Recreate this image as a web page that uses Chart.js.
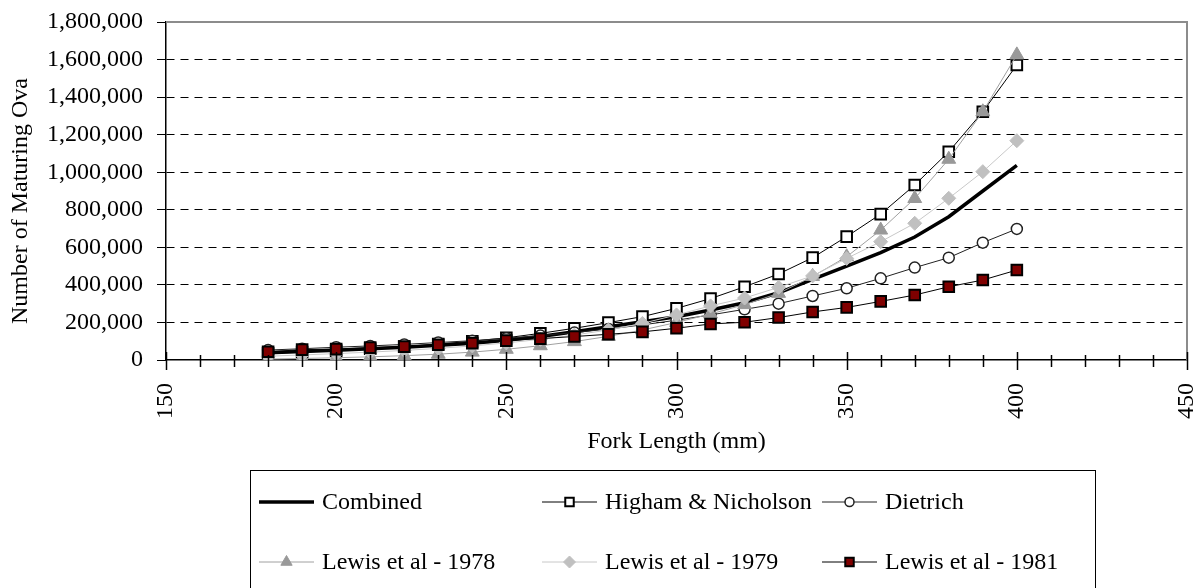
<!DOCTYPE html>
<html>
<head>
<meta charset="utf-8">
<title>Number of Maturing Ova by Fork Length</title>
<script src="https://cdn.jsdelivr.net/npm/chart.js@4.4.1/dist/chart.umd.min.js"></script>
<style>
  html, body { margin: 0; padding: 0; background: #fff; }
  #wrap { width: 1199px; height: 588px; }
</style>
</head>
<body>
<div id="wrap"><canvas id="chart" width="1199" height="588"></canvas></div>
<script>
// Fork length (mm) of each estimate
const forkLength = [180, 190, 200, 210, 220, 230, 240, 250, 260, 270, 280, 290,
                    300, 310, 320, 330, 340, 350, 360, 370, 380, 390, 400];

// Number of maturing ova
const combined = [38000, 45000, 52000, 60000, 68000, 78000, 89000, 105000, 125000, 150000, 177000, 204000,
                  230000, 266000, 305000, 358000, 430000, 500000, 572000, 655000, 763000, 900000, 1036000];
const highamNicholson = [35000, 42000, 50000, 60000, 72000, 85000, 100000, 118000, 142000, 169000, 199000, 231000,
                         275000, 327000, 390000, 458000, 545000, 657000, 777000, 932000, 1109000, 1322000, 1571000];
const dietrich = [53000, 60000, 68000, 75000, 83000, 93000, 103000, 116000, 130000, 146000, 165000, 187000,
                  212000, 240000, 270000, 300000, 341000, 382000, 435000, 492000, 545000, 625000, 698000];
const lewis1978 = [5000, 8000, 12000, 17000, 23000, 31000, 42000, 57000, 76000, 98000, 126000, 160000,
                   200000, 245000, 295000, 355000, 445000, 550000, 692000, 860000, 1069000, 1322000, 1625000];
const lewis1979 = [20000, 27000, 34000, 42000, 51000, 62000, 75000, 91000, 110000, 133000, 160000, 195000,
                   240000, 288000, 330000, 387000, 448000, 541000, 630000, 728000, 861000, 1003000, 1168000];
const lewis1981 = [44000, 55000, 58000, 66000, 71000, 81000, 90000, 103000, 114000, 125000, 137000, 150000,
                   169000, 192000, 201000, 226000, 256000, 280000, 312000, 346000, 390000, 426000, 479000];

// Axis ticks and titles
const xTickValues = [150, 200, 250, 300, 350, 400, 450];
const xMinorStep = 10;
const yTickValues = [0, 200000, 400000, 600000, 800000, 1000000, 1200000, 1400000, 1600000, 1800000];
const yTitle = 'Number of Maturing Ova';

const FONT = 'Liberation Serif';

function pairs(values) {
  return values.map(function(v, i) { return { x: forkLength[i], y: v }; });
}

// Frame, crossing x ticks, y title and the boxed legend (Excel style)
const excelLook = {
  id: 'excelLook',
  afterDraw(chart) {
    const ctx = chart.ctx;
    const area = chart.chartArea;
    const xs = chart.scales.x;

    // top and right edges of the plot area
    ctx.save();
    ctx.strokeStyle = '#8c8c8c';
    ctx.lineWidth = 2;
    ctx.beginPath();
    ctx.moveTo(area.left, area.top);
    ctx.lineTo(area.right, area.top);
    ctx.lineTo(area.right, area.bottom);
    ctx.stroke();
    ctx.restore();

    // x tick marks, crossing the axis
    ctx.save();
    ctx.strokeStyle = '#000';
    ctx.lineWidth = 1.5;
    for (let v = xs.min; v <= xs.max; v += xMinorStep) {
      const px = Math.round(xs.getPixelForValue(v)) + 0.5;
      const major = v % 50 === 0;
      ctx.beginPath();
      ctx.moveTo(px, area.bottom - (major ? 8 : 5));
      ctx.lineTo(px, area.bottom + (major ? 10 : 7));
      ctx.stroke();
    }
    ctx.restore();

    // y axis title, sits a little below the plot centre in the original
    ctx.save();
    ctx.translate(21, (area.top + area.bottom) / 2 + 10);
    ctx.rotate(-Math.PI / 2);
    ctx.font = '24px "' + FONT + '"';
    ctx.fillStyle = '#000';
    ctx.textAlign = 'center';
    ctx.textBaseline = 'middle';
    ctx.fillText(yTitle, 0, 0);
    ctx.restore();

    // legend box
    const boxLeft = 250.5, boxTop = 470.5, boxRight = 1095.5;
    ctx.save();
    ctx.strokeStyle = '#000';
    ctx.lineWidth = 1;
    ctx.strokeRect(boxLeft, boxTop, boxRight - boxLeft, 140);

    const textX = [322, 605, 885];
    const rowY = [502, 562];
    ctx.font = '24px "' + FONT + '"';
    ctx.textBaseline = 'middle';
    ctx.textAlign = 'left';
    chart.data.datasets.forEach(function(ds, i) {
      const col = i % 3, row = Math.floor(i / 3);
      const x0 = textX[col] - 63, x1 = textX[col] - 8, y = rowY[row];
      ctx.strokeStyle = ds.borderColor;
      ctx.lineWidth = ds.borderWidth;
      ctx.beginPath();
      ctx.moveTo(x0, y);
      ctx.lineTo(x1, y);
      ctx.stroke();
      if (ds.pointRadius > 0) {
        ctx.fillStyle = ds.pointBackgroundColor;
        ctx.strokeStyle = ds.pointBorderColor;
        ctx.lineWidth = ds.pointBorderWidth;
        Chart.helpers.drawPoint(ctx, {
          pointStyle: ds.pointStyle,
          radius: ds.legendRadius,
          rotation: 0,
          borderWidth: ds.pointBorderWidth
        }, (x0 + x1) / 2, y);
      }
      ctx.fillStyle = '#000';
      ctx.fillText(ds.label, textX[col], y + 1);
    });
    ctx.restore();
  }
};

const ctx = document.getElementById('chart').getContext('2d');
new Chart(ctx, {
  type: 'line',
  data: {
    datasets: [
      {
        label: 'Combined',
        data: pairs(combined),
        borderColor: '#000',
        borderWidth: 3.5,
        pointRadius: 0,
        order: 6
      },
      {
        label: 'Higham & Nicholson',
        data: pairs(highamNicholson),
        borderColor: '#000',
        borderWidth: 1,
        pointStyle: 'rect',
        pointRadius: 7.5,
        legendRadius: 6,
        pointBackgroundColor: '#fff',
        pointBorderColor: '#000',
        pointBorderWidth: 2,
        order: 5
      },
      {
        label: 'Dietrich',
        data: pairs(dietrich),
        borderColor: '#222',
        borderWidth: 1,
        pointStyle: 'circle',
        pointRadius: 5.5,
        legendRadius: 4.5,
        pointBackgroundColor: '#fff',
        pointBorderColor: '#222',
        pointBorderWidth: 1.5,
        order: 4
      },
      {
        label: 'Lewis et al - 1978',
        data: pairs(lewis1978),
        borderColor: '#a0a0a0',
        borderWidth: 1,
        pointStyle: 'triangle',
        pointRadius: 8,
        legendRadius: 6.5,
        pointBackgroundColor: '#999',
        pointBorderColor: '#999',
        pointBorderWidth: 1,
        order: 3
      },
      {
        label: 'Lewis et al - 1979',
        data: pairs(lewis1979),
        borderColor: '#c8c8c8',
        borderWidth: 1,
        pointStyle: 'rectRot',
        pointRadius: 7,
        legendRadius: 6,
        pointBackgroundColor: '#c0c0c0',
        pointBorderColor: '#c0c0c0',
        pointBorderWidth: 1,
        order: 2
      },
      {
        label: 'Lewis et al - 1981',
        data: pairs(lewis1981),
        borderColor: '#000',
        borderWidth: 1,
        pointStyle: 'rect',
        pointRadius: 7.5,
        legendRadius: 6,
        pointBackgroundColor: '#800000',
        pointBorderColor: '#000',
        pointBorderWidth: 2,
        order: 1
      }
    ]
  },
  options: {
    responsive: false,
    animation: false,
    devicePixelRatio: 1,
    layout: { padding: { left: 0, top: 22, right: 12, bottom: 120 } },
    plugins: {
      legend: { display: false },
      tooltip: { enabled: false }
    },
    scales: {
      x: {
        type: 'linear',
        min: 150,
        max: 450,
        afterBuildTicks: function(scale) {
          scale.ticks = xTickValues.map(function(v) { return { value: v }; });
        },
        afterFit: function(scale) {
          scale.height = 108;
          scale.paddingLeft = 0;
          scale.paddingRight = 0;
        },
        ticks: {
          autoSkip: false,
          minRotation: 90,
          maxRotation: 90,
          padding: 23,
          color: '#000',
          font: { family: FONT, size: 24 }
        },
        grid: { drawOnChartArea: false, drawTicks: false },
        border: { color: '#000', width: 1.5 },
        title: {
          display: true,
          text: 'Fork Length (mm)',
          color: '#000',
          font: { family: FONT, size: 24 },
          padding: { top: 0, bottom: 12 }
        }
      },
      y: {
        min: 0,
        max: 1800000,
        afterBuildTicks: function(scale) {
          scale.ticks = yTickValues.map(function(v) { return { value: v }; });
        },
        afterFit: function(scale) {
          scale.width = 166;
          scale.paddingTop = 0;
          scale.paddingBottom = 0;
        },
        ticks: {
          padding: 14,
          color: '#000',
          font: { family: FONT, size: 24 },
          callback: function(v) { return Number(v).toLocaleString('en-US'); }
        },
        grid: {
          color: function(c) {
            const v = c.tick ? c.tick.value : null;
            return (v === 0 || v === 1800000) ? 'rgba(0,0,0,0)' : '#000';
          },
          tickColor: '#000',
          tickLength: 9,
          lineWidth: 1
        },
        border: { color: '#000', width: 1.5, dash: [8, 6] }
      }
    }
  },
  plugins: [excelLook]
});
</script>
</body>
</html>
